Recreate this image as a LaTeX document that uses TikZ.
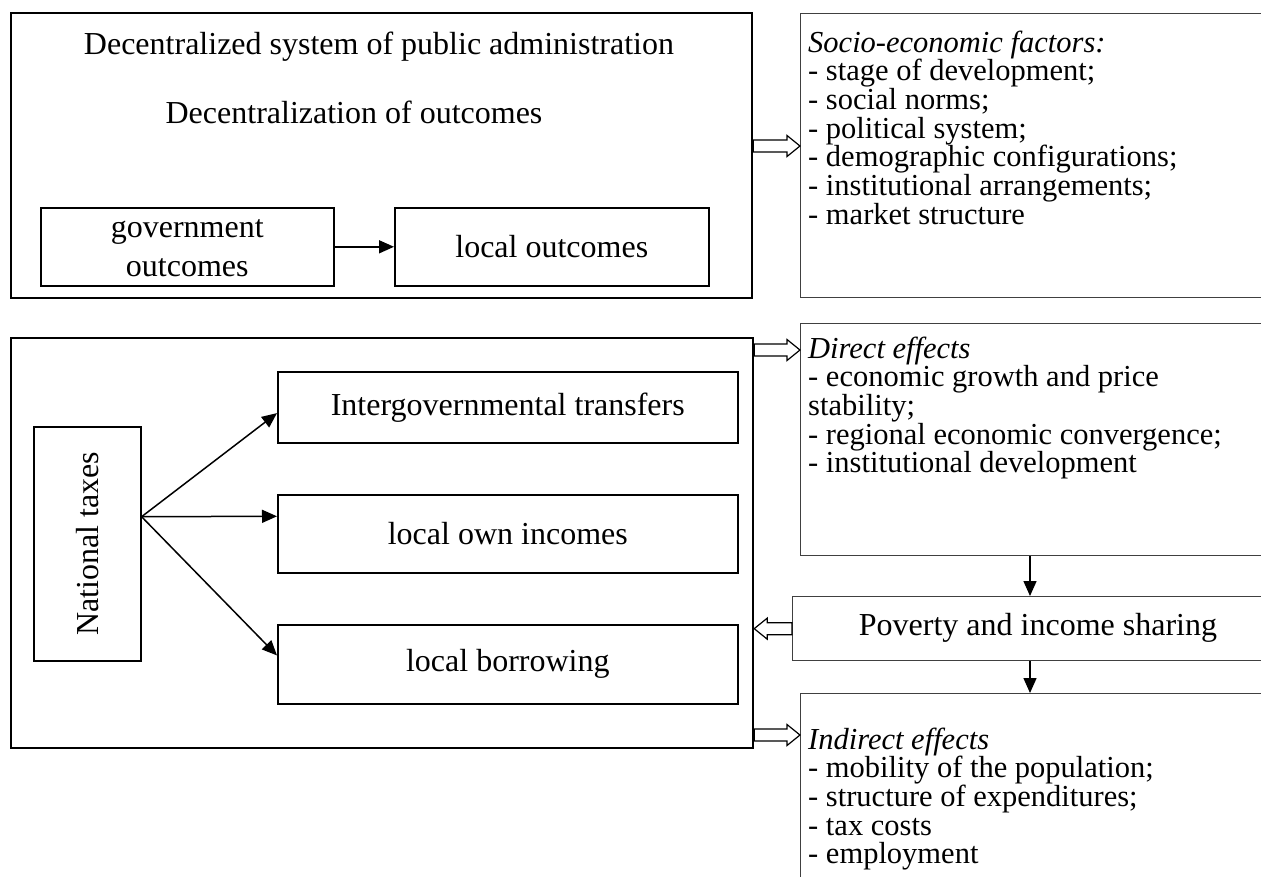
\documentclass[tikz,border=0pt]{standalone}
\usepackage{fontspec}
\setmainfont{Liberation Serif}
\usetikzlibrary{arrows.meta,calc}
\newcommand\hollowR[2]{\draw[harrow] let \p1=(#1), \p2=(#2) in
  (\x1,\y1+6pt) -- (\x2-13pt,\y1+6pt) -- (\x2-13pt,\y1+10.5pt) -- (\x2,\y1) --
  (\x2-13pt,\y1-10.5pt) -- (\x2-13pt,\y1-6pt) -- (\x1,\y1-6pt) -- cycle;}
\newcommand\hollowL[2]{\draw[harrow] let \p1=(#1), \p2=(#2) in
  (\x1,\y1+6pt) -- (\x2+13pt,\y1+6pt) -- (\x2+13pt,\y1+10.5pt) -- (\x2,\y1) --
  (\x2+13pt,\y1-10.5pt) -- (\x2+13pt,\y1-6pt) -- (\x1,\y1-6pt) -- cycle;}
\begin{document}
\begin{tikzpicture}[x=1pt,y=-1pt,
  bigbox/.style={draw, line width=2.2pt, inner sep=0pt, anchor=north west},
  inbox/.style={draw, line width=1.6pt, inner sep=0pt, anchor=north west, align=center, font=\fontsize{32}{40}\selectfont},
  sidebox/.style={draw=black!75, line width=1.3pt, inner sep=0pt, anchor=north west},
  txt/.style={inner sep=0pt, align=center, font=\fontsize{32}{40}\selectfont},
  listtxt/.style={inner sep=0pt, anchor=base west, font=\fontsize{30.5}{28.7}\selectfont},
  harrow/.style={draw, line width=1.2pt, line join=miter, fill=white},
  conn/.style={line width=1.5pt, -{Triangle[length=15pt,width=13pt]}}
]
\useasboundingbox (0,0) rectangle (1261,876);
\fill[white] (0,0) rectangle (1261,876);

% top section
\node[bigbox, minimum width=741pt, minimum height=285pt] (top) at (10,12) {};
\node[txt] (title) at (379,47) {Decentralized system of public administration};
\node[txt] (sub) at (354,112) {Decentralization of outcomes};
\node[inbox, minimum width=293pt, minimum height=78pt] (gov) at (40,207) {};
\node[txt, font=\fontsize{32}{39}\selectfont] (govt) at ($(gov.center)+(0,1)$) {government\\outcomes};
\node[inbox, minimum width=314pt, minimum height=78pt] (loc) at (394,207) {local outcomes};
\draw[conn] (gov.east) -- (loc.west);

% socio box
\node[sidebox, minimum width=470pt, minimum height=284pt] (socio) at (800,13) {};
\node[listtxt] (sociot) at (808,52) {\parbox[t]{450pt}{\lineskiplimit=-100pt\raggedright
\textit{Socio-economic factors:}\\- stage of development;\\- social norms;\\- political system;\\- demographic configurations;\\- institutional arrangements;\\- market structure}};
\coordinate (a1s) at (top.east |- 0,146);
\hollowR{a1s}{socio.west}

% second section
\node[bigbox, minimum width=742pt, minimum height=410pt] (mid) at (10,337) {};
\node[inbox, minimum width=107pt, minimum height=234pt] (nat) at (33,426) {};
\node[txt, rotate=90] (natt) at (nat.center) {National taxes};
\node[inbox, minimum width=460pt, minimum height=71pt] (ig) at (277,371) {Intergovernmental transfers};
\node[inbox, minimum width=460pt, minimum height=78pt] (own) at (277,494) {local own incomes};
\node[inbox, minimum width=460pt, minimum height=79pt] (bor) at (277,624) {local borrowing};
\coordinate (src) at ($(nat.north east)!0.385!(nat.south east)$);
\draw[conn] (src) -- ($(ig.north west)!0.58!(ig.south west)$);
\draw[conn] (src) -- ($(own.north west)!0.28!(own.south west)$);
\draw[conn] (src) -- ($(bor.north west)!0.39!(bor.south west)$);

% right column
\node[sidebox, minimum width=470pt, minimum height=232pt] (dir) at (800,323) {};
\node[listtxt] (dirt) at (808,358) {\parbox[t]{450pt}{\lineskiplimit=-100pt\raggedright
\textit{Direct effects}\\- economic growth and price\\stability;\\- regional economic convergence;\\- institutional development}};
\coordinate (a2s) at (mid.east |- 0,350);
\hollowR{a2s}{dir.west}

\node[sidebox, minimum width=473pt, minimum height=64pt] (pov) at (792,596) {};
\node[txt] (povt) at (1038,628) {Poverty and income sharing};
\coordinate (a3e) at (mid.east |- pov.west);
\hollowL{pov.west}{a3e}

\node[sidebox, minimum width=470pt, minimum height=200pt] (ind) at (800,693) {};
\node[listtxt] (indt) at (808,749) {\parbox[t]{450pt}{\lineskiplimit=-100pt\raggedright
\textit{Indirect effects}\\- mobility of the population;\\- structure of expenditures;\\- tax costs\\- employment}};
\coordinate (a4s) at (mid.east |- 0,735);
\hollowR{a4s}{ind.west}

\coordinate (dx) at (1030,0);
\draw[conn] (dx |- dir.south) -- (dx |- pov.north);
\draw[conn] (dx |- pov.south) -- (dx |- ind.north);
\end{tikzpicture}
\end{document}
